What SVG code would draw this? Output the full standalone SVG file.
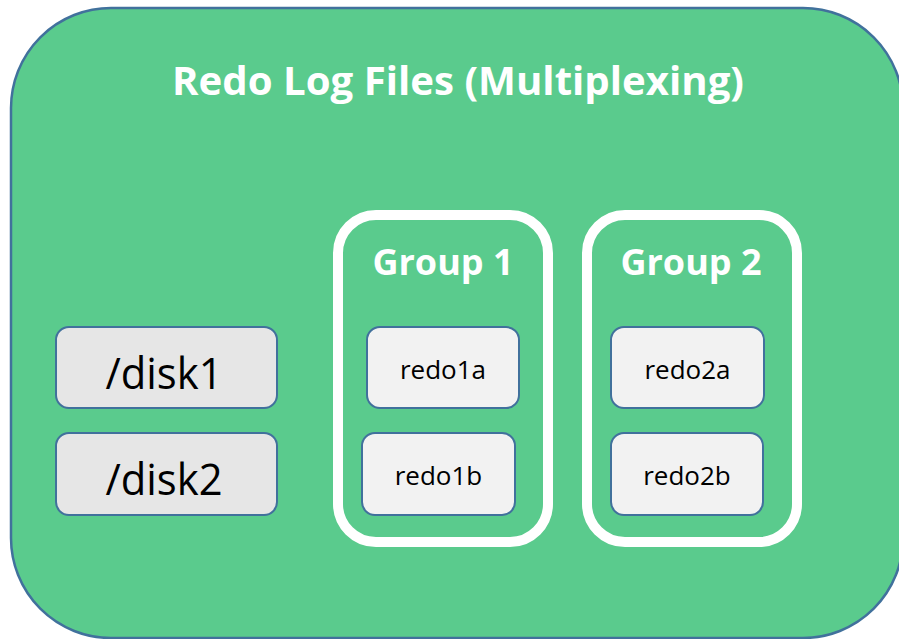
<svg xmlns="http://www.w3.org/2000/svg" width="899" height="639" viewBox="0 0 899 639">
  <style>
    .frame { fill: #5ACB8D; stroke: #41719C; stroke-width: 2.5; }
    .group { fill: none; stroke: #FFFFFF; stroke-width: 10; }
    .disk { fill: #E6E6E6; stroke: #41719C; stroke-width: 2; }
    .file { fill: #F2F2F2; stroke: #41719C; stroke-width: 2; }
    .title { font-family: "Open Sans", "Liberation Sans", sans-serif; font-weight: bold; fill: #FFFFFF; text-anchor: middle; }
    .label { font-family: "Open Sans", "Liberation Sans", sans-serif; fill: #000000; text-anchor: middle; }
  </style>

  <!-- outer container -->
  <g id="redo-log-files">
    <rect class="frame" x="11" y="8" width="892" height="630" rx="100" ry="100"/>
    <text class="title" x="458" y="95" font-size="39" textLength="572" lengthAdjust="spacingAndGlyphs">Redo Log Files (Multiplexing)</text>
  </g>

  <!-- disks -->
  <g id="disk1">
    <rect class="disk" x="56" y="327" width="221" height="81" rx="13"/>
    <text class="label" x="164" y="389" font-size="44" textLength="117" lengthAdjust="spacingAndGlyphs">/disk1</text>
  </g>
  <g id="disk2">
    <rect class="disk" x="56" y="433" width="221" height="82" rx="13"/>
    <text class="label" x="164" y="495" font-size="44" textLength="117" lengthAdjust="spacingAndGlyphs">/disk2</text>
  </g>

  <!-- group 1 -->
  <g id="group1">
    <rect class="group" x="338" y="215" width="210" height="327" rx="38"/>
    <text class="title" x="443" y="275" font-size="36">Group 1</text>
  </g>
  <g id="redo1a">
    <rect class="file" x="367" y="327" width="152" height="81" rx="13"/>
    <text class="label" x="443" y="379" font-size="26">redo1a</text>
  </g>
  <g id="redo1b">
    <rect class="file" x="362" y="433" width="153" height="82" rx="13"/>
    <text class="label" x="438.5" y="485" font-size="26">redo1b</text>
  </g>

  <!-- group 2 -->
  <g id="group2">
    <rect class="group" x="587" y="215" width="210" height="327" rx="38"/>
    <text class="title" x="691" y="275" font-size="36">Group 2</text>
  </g>
  <g id="redo2a">
    <rect class="file" x="611" y="327" width="153" height="81" rx="13"/>
    <text class="label" x="687.5" y="379" font-size="26">redo2a</text>
  </g>
  <g id="redo2b">
    <rect class="file" x="611" y="433" width="152" height="82" rx="13"/>
    <text class="label" x="687" y="485" font-size="26">redo2b</text>
  </g>

  <!-- no connectors in this diagram -->
  <g id="connectors"/>
</svg>
